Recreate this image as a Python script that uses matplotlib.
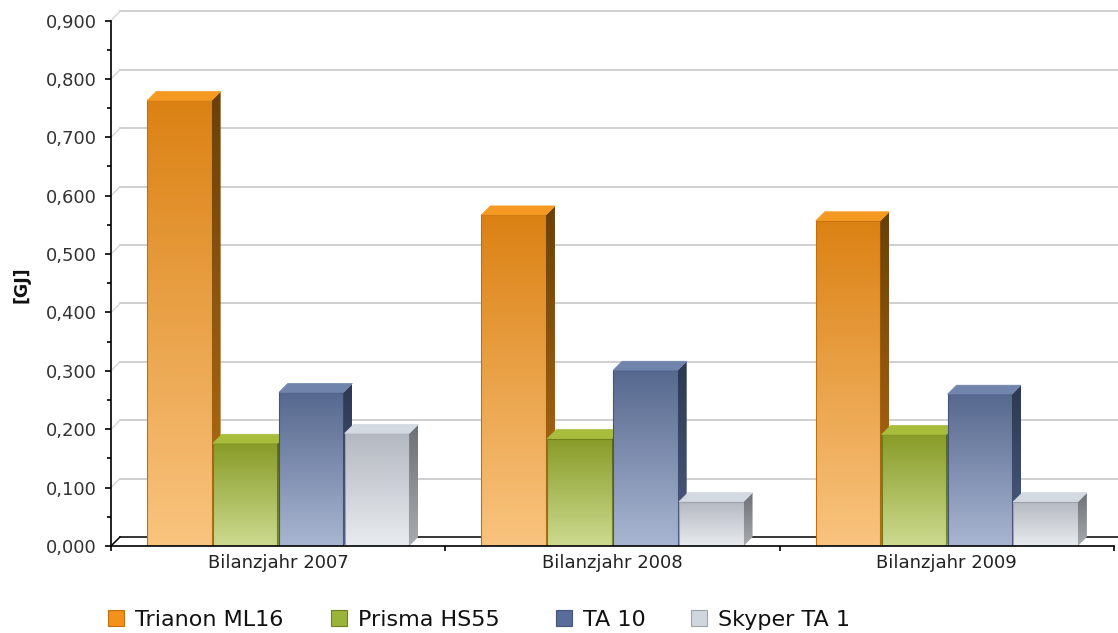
import numpy as np
import matplotlib
matplotlib.use('Agg')
import matplotlib.pyplot as plt
from matplotlib.patches import Polygon, Patch
from matplotlib.colors import LinearSegmentedColormap

# ---------------- data ----------------
categories = ['Bilanzjahr 2007', 'Bilanzjahr 2008', 'Bilanzjahr 2009']
series_names = ['Trianon ML16', 'Prisma HS55', 'TA 10', 'Skyper TA 1']
trianon = [0.763, 0.567, 0.557]
prisma = [0.176, 0.184, 0.191]
ta10 = [0.263, 0.301, 0.260]
skyper = [0.193, 0.076, 0.076]
values = [trianon, prisma, ta10, skyper]
y_ticks = [0.0, 0.1, 0.2, 0.3, 0.4, 0.5, 0.6, 0.7, 0.8, 0.9]
y_label = '[GJ]'

# ---------------- styles ----------------
# (front top, front bottom, top face, side top, side bottom, legend, edge)
styles = [
    ('#db8113', '#f9c47f', '#f49a22', '#6a4008', '#b96f15', '#f4901c', '#c0700f'),
    ('#889b27', '#ccdb90', '#a7bd3b', '#55621a', '#7f902a', '#9ab43a', '#6e7f1e'),
    ('#56688e', '#a9b6d2', '#7084ac', '#2d3951', '#4d5c83', '#5a6c9a', '#44557c'),
    ('#b4b8c0', '#e8ebef', '#d4dae2', '#6c7075', '#a8acb0', '#d0d6de', '#9ea3aa'),
]
legend_x_px = [108, 331, 556, 691]

W, H, DPI = 1118, 633, 100
fig = plt.figure(figsize=(W / DPI, H / DPI), dpi=DPI)
fig.patch.set_facecolor('white')

ax_left, ax_right, ax_bottom, ax_top = 111, 1114, 546, 20.5
ax = fig.add_axes([ax_left / W, (H - ax_bottom) / H,
                   (ax_right - ax_left) / W, (ax_bottom - ax_top) / H])
ax.set_xlim(0, len(categories))
ax.set_ylim(0, 0.9)
ax.patch.set_visible(False)

depth_px = 9.0
px_per_x = (ax_right - ax_left) / len(categories)
px_per_y = (ax_bottom - ax_top) / 0.9
dx = depth_px / px_per_x
dy = depth_px / px_per_y

# back wall gridlines & connectors
for v in y_ticks:
    if v == 0:
        ax.plot([dx, len(categories) + dx], [dy, dy], color='black', lw=1.1,
                clip_on=False, zorder=1)
        ax.plot([0, dx], [0, dy], color='black', lw=1.1, clip_on=False, zorder=1)
    else:
        ax.plot([dx, len(categories) + dx], [v + dy, v + dy], color='#cccccc',
                lw=1.3, clip_on=False, zorder=1)
        ax.plot([0, dx], [v, v + dy], color='#d6d6d6', lw=1.0, clip_on=False,
                zorder=1)

# bars
margin = 0.108
slot = 0.197
barw = 0.193
grad = np.linspace(0, 1, 256).reshape(-1, 1)
z = 2.0
for i in range(len(categories)):
    for j, vals in enumerate(values):
        h = vals[i]
        ft, fb, tc, st, sb, lc, ec = styles[j]
        x0 = i + margin + j * slot
        x1 = x0 + barw
        # front face
        cm = LinearSegmentedColormap.from_list('f%d' % j, [fb, ft])
        ax.imshow(grad, extent=[x0, x1, 0, h], origin='lower', aspect='auto',
                  cmap=cm, zorder=z, interpolation='bilinear')
        ax.plot([x0, x0, x1, x1], [0, h, h, 0], color=ec, lw=0.8, zorder=z + 0.001)
        # side face
        cms = LinearSegmentedColormap.from_list('s%d' % j, [sb, st])
        side = Polygon([(x1, 0), (x1 + dx, dy), (x1 + dx, h + dy), (x1, h)],
                       closed=True, facecolor='none', edgecolor='none',
                       transform=ax.transData)
        ax.add_patch(side)
        im = ax.imshow(grad, extent=[x1, x1 + dx, 0, h + dy], origin='lower',
                       aspect='auto', cmap=cms, zorder=z + 0.002,
                       interpolation='bilinear')
        im.set_clip_path(side)
        # top face
        top = Polygon([(x0, h), (x0 + dx, h + dy), (x1 + dx, h + dy), (x1, h)],
                      closed=True, facecolor=tc, edgecolor=tc, lw=0.5,
                      zorder=z + 0.003)
        ax.add_patch(top)
        z += 0.01

ax.set_xlim(0, len(categories))
ax.set_ylim(0, 0.9)

# spines
for s in ['top', 'right']:
    ax.spines[s].set_visible(False)
ax.spines['left'].set_linewidth(1.2)
ax.spines['bottom'].set_linewidth(1.2)
ax.spines['left'].set_zorder(10)
ax.spines['bottom'].set_zorder(10)

# y ticks
ax.set_yticks(y_ticks)
ax.set_yticklabels([('%.3f' % v).replace('.', ',') for v in y_ticks])
ax.set_yticks([v + 0.05 for v in y_ticks[:-1]], minor=True)
ax.tick_params(axis='y', which='major', direction='out', length=4.3, width=1.2,
               labelsize=13, pad=6, labelcolor='#333333')
ax.tick_params(axis='y', which='minor', direction='out', length=3, width=1.2)

# x ticks
ax.set_xticks(list(range(len(categories) + 1)))
ax.set_xticklabels([''] * (len(categories) + 1))
ax.set_xticks([i + 0.5 for i in range(len(categories))], minor=True)
ax.set_xticklabels(categories, minor=True)
ax.tick_params(axis='x', which='major', direction='out', length=3.6, width=1.2)
ax.tick_params(axis='x', which='minor', length=0, labelsize=13, pad=6,
               labelcolor='#222222')

# y label
fig.text(21 / W, 1 - 285 / H, y_label, rotation=90, fontsize=12.5,
         fontweight='bold', ha='center', va='center', color='#111111')

# legend (one entry per anchor)
for name, s, lx in zip(series_names, styles, legend_x_px):
    leg = fig.legend([Patch(facecolor=s[5], edgecolor=s[6], lw=0.8)], [name],
                     loc='center left', bbox_to_anchor=(lx / W, 13 / H),
                     frameon=False, fontsize=16, handlelength=0.72,
                     handleheight=0.72, handletextpad=0.5, borderpad=0,
                     borderaxespad=0, labelcolor='#111111')

fig.savefig('out.png', dpi=DPI, facecolor='white')
